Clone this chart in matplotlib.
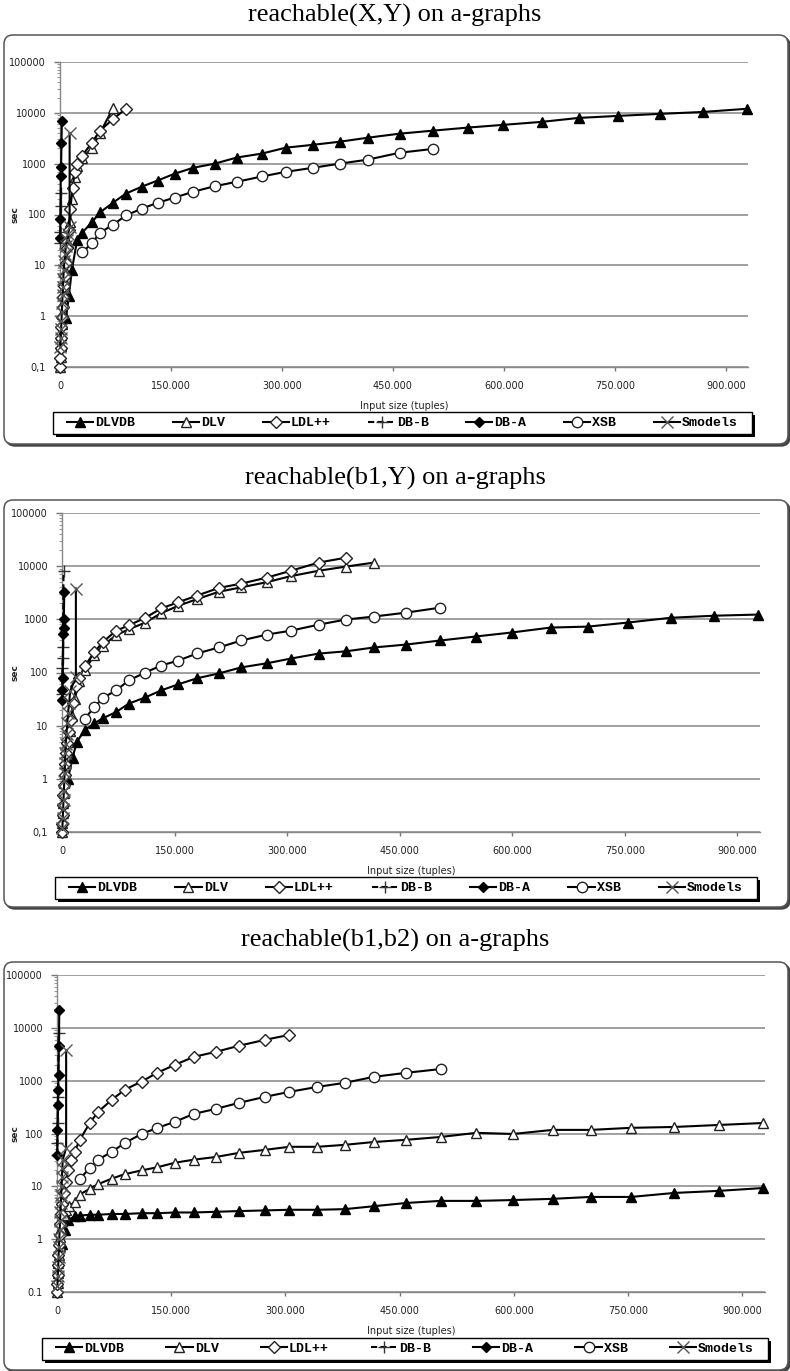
import matplotlib
matplotlib.use("Agg")
import matplotlib.pyplot as plt
from matplotlib.patches import FancyBboxPatch, Rectangle
from matplotlib.transforms import IdentityTransform
from matplotlib.ticker import FixedLocator, LogLocator, NullFormatter, FixedFormatter

W, H, DPI = 790, 1371, 100

# graph sizes (tuples) used by the larger runs
sizes = [23000, 30000, 43000, 54000, 72000, 89000, 111000, 132000, 155000,
         180000, 209000, 239000, 273000, 305000, 342000, 378000, 416000,
         459000, 504000, 551000, 599000, 651000, 701000, 754000, 811000,
         869000, 928000]

x_ticks = [0, 150000, 300000, 450000, 600000, 750000, 900000]
x_tick_labels = ['0', '150.000', '300.000', '450.000', '600.000', '750.000', '900.000']
y_ticks = [0.1, 1, 10, 100, 1000, 10000, 100000]
y_labels_comma = ['0,1', '1', '10', '100', '1000', '10000', '100000']
y_labels_dot = ['0.1', '1', '10', '100', '1000', '10000', '100000']

titles = ['reachable(X,Y) on a-graphs', 'reachable(b1,Y) on a-graphs',
          'reachable(b1,b2) on a-graphs']
systems = ['DLVDB', 'DLV', 'LDL++', 'DB-B', 'DB-A', 'XSB', 'Smodels']

# ---------------- reachable(X,Y) ----------------
p1_dlvdb_x = [8000, 12000, 16000] + sizes
p1_dlvdb_y = [0.9, 2.5, 8, 31, 44, 70, 110, 172, 258, 355, 466, 635, 830, 1000,
              1320, 1580, 2060, 2350, 2700, 3240, 3890, 4460, 5120, 5800, 6640,
              7940, 8700, 9540, 10400, 12000]
p1_dlv_x = [300, 700, 1200, 1800, 2500, 3300, 4200, 5200, 6300, 7500, 9000,
            11000, 13500, 16500, 20000] + sizes[:5]
p1_dlv_y = [0.1, 0.16, 0.26, 0.42, 0.7, 1.1, 1.8, 2.9, 4.6, 7.5, 13, 28, 70,
            200, 550, 900, 1300, 2000, 4000, 12600]
p1_ldl_x = [200, 500, 900, 1400, 2000, 2700, 3500, 4400, 5400, 6500, 8000,
            9500, 11500, 14000, 17000, 20000] + sizes[:6]
p1_ldl_y = [0.1, 0.15, 0.24, 0.38, 0.6, 0.95, 1.5, 2.4, 3.9, 6.3, 11, 22, 50,
            130, 330, 700, 1000, 1440, 2570, 4460, 7600, 12000]
p1_dbb_x = [300, 600, 1000, 1500]
p1_dbb_y = [28, 45, 150, 270]
p1_dba_x = [300, 600, 1000, 1500, 2000, 2500]
p1_dba_y = [34, 83, 560, 870, 2570, 6900]
p1_xsb_x = sizes[1:19]
p1_xsb_y = [18, 27, 44, 63, 96, 131, 170, 215, 280, 360, 440, 560, 690, 830,
            1000, 1200, 1640, 1950]
p1_smo_x = [500, 1000, 1500, 2000, 2500, 3000, 3500, 4000, 4500, 5000, 6000,
            7000, 8000, 9500, 11000, 13000, 13000]
p1_smo_y = [0.25, 0.38, 0.55, 0.8, 1.2, 1.8, 2.6, 3.8, 5.5, 8, 12, 17, 24, 32,
            42, 56, 4000]

# ---------------- reachable(b1,Y) ----------------
p2_dlvdb_x = [8000, 14000, 20000] + sizes[1:]
p2_dlvdb_y = [1.0, 2.5, 5, 8.2, 11, 13.7, 18, 26, 34, 46, 60, 78, 96, 125, 149,
              183, 227, 250, 296, 336, 400, 475, 565, 700, 730, 870, 1070,
              1170, 1230]
p2_dlv_x = [200, 500, 1000, 1500, 2000, 3000, 4000, 5000, 6000, 8000, 10000,
            13000, 17000] + sizes[:17]
p2_dlv_y = [0.1, 0.15, 0.23, 0.35, 0.55, 0.85, 1.3, 2, 3.2, 5, 8, 15, 32, 70,
            110, 210, 320, 500, 650, 870, 1300, 1800, 2400, 3300, 4000, 5000,
            6500, 8200, 9800, 11700]
p2_ldl_x = [150, 400, 800, 1300, 1800, 2600, 3500, 4500, 5500, 7000, 9000,
            11500, 15000, 19000] + sizes[:16]
p2_ldl_y = [0.1, 0.14, 0.21, 0.32, 0.5, 0.78, 1.2, 1.9, 3, 4.7, 7.5, 13, 27,
            55, 80, 130, 240, 370, 610, 770, 1070, 1600, 2100, 2800, 3900,
            4700, 6100, 8200, 11700, 14400]
p2_dbb_x = [300, 600, 1000, 1500, 2000]
p2_dbb_y = [40, 120, 190, 296, 8200]
p2_dba_x = [300, 600, 1000, 1500, 2000, 2500, 3000]
p2_dba_y = [30, 46, 78, 540, 700, 1020, 3200]
p2_xsb_x = sizes[1:19]
p2_xsb_y = [13.5, 22, 33, 46, 71, 100, 135, 168, 228, 296, 400, 517, 612, 795,
            990, 1130, 1340, 1660]
p2_smo_x = [500, 1000, 1500, 2000, 2500, 3000, 3500, 4000, 4500, 5000, 6000,
            7000, 8000, 9500, 11000, 18500, 18500]
p2_smo_y = [0.12, 0.18, 0.27, 0.4, 0.6, 0.9, 1.3, 2, 3, 4.5, 7, 11, 17, 27, 45,
            81, 3800]

# ---------------- reachable(b1,b2) ----------------
p3_dlvdb_x = [6000, 10000, 15000] + sizes
p3_dlvdb_y = [0.8, 1.5, 2.3, 2.7, 2.8, 2.9, 2.9, 3.0, 3.0, 3.1, 3.1, 3.2, 3.2,
              3.3, 3.4, 3.5, 3.6, 3.6, 3.7, 4.2, 4.85, 5.3, 5.3, 5.5, 5.8,
              6.3, 6.3, 7.5, 8.2, 9.3]
p3_dlv_x = [300, 700, 1200, 1800, 2500, 3300, 4200, 5500, 7000, 9000, 12000,
            16000] + sizes
p3_dlv_y = [0.1, 0.15, 0.23, 0.35, 0.5, 0.75, 1.1, 1.6, 2.2, 2.9, 3.6, 4.3,
            5, 7, 9, 11, 14, 17, 20, 23, 28, 32, 36, 43, 49, 56, 56, 61, 69,
            76, 86, 103, 98, 117, 117, 128, 133, 145, 158]
p3_ldl_x = [150, 400, 800, 1300, 1800, 2600, 3500, 4500, 5500, 7000, 9000,
            11500, 15000, 19000] + sizes[:14]
p3_ldl_y = [0.1, 0.14, 0.21, 0.32, 0.5, 0.78, 1.2, 1.9, 3, 4.7, 7.5, 12, 20,
            32, 45, 76, 158, 257, 435, 675, 960, 1420, 2000, 2830, 3520, 4580,
            5920, 7350]
p3_dbb_x = [200, 500, 1000, 1500, 2000]
p3_dbb_y = [39, 66, 158, 490, 8000]
p3_dba_x = [300, 600, 1000, 1500, 2000, 2500, 3000]
p3_dba_y = [40, 117, 345, 675, 1290, 4500, 21800]
p3_xsb_x = sizes[1:19]
p3_xsb_y = [14, 22, 32, 45, 66, 98, 128, 167, 236, 293, 380, 494, 613, 762,
            910, 1180, 1410, 1660]
p3_smo_x = [500, 1000, 1500, 2000, 2500, 3000, 3500, 4000, 4500, 5000, 5500,
            6000, 6500, 7000, 7500, 12000, 12000]
p3_smo_y = [0.13, 0.2, 0.3, 0.45, 0.7, 1.0, 1.5, 2.2, 3.2, 4.8, 7, 10, 15, 22,
            32, 53, 3800]

panels = [
    dict(title=titles[0], ylabels=y_labels_comma,
         series=[(p1_dlvdb_x, p1_dlvdb_y), (p1_dlv_x, p1_dlv_y), (p1_ldl_x, p1_ldl_y),
                 (p1_dbb_x, p1_dbb_y), (p1_dba_x, p1_dba_y), (p1_xsb_x, p1_xsb_y),
                 (p1_smo_x, p1_smo_y)],
         ax_px=(60, 62, 748, 367), frame_px=(4, 35, 788, 444), title_y=15,
         legend_px=(53, 412, 752, 434)),
    dict(title=titles[1], ylabels=y_labels_comma,
         series=[(p2_dlvdb_x, p2_dlvdb_y), (p2_dlv_x, p2_dlv_y), (p2_ldl_x, p2_ldl_y),
                 (p2_dbb_x, p2_dbb_y), (p2_dba_x, p2_dba_y), (p2_xsb_x, p2_xsb_y),
                 (p2_smo_x, p2_smo_y)],
         ax_px=(62, 513, 760, 832), frame_px=(4, 500, 788, 907), title_y=478,
         legend_px=(55, 877, 757, 899)),
    dict(title=titles[2], ylabels=y_labels_dot,
         series=[(p3_dlvdb_x, p3_dlvdb_y), (p3_dlv_x, p3_dlv_y), (p3_ldl_x, p3_ldl_y),
                 (p3_dbb_x, p3_dbb_y), (p3_dba_x, p3_dba_y), (p3_xsb_x, p3_xsb_y),
                 (p3_smo_x, p3_smo_y)],
         ax_px=(57, 975, 765, 1292), frame_px=(4, 962, 788, 1370), title_y=940,
         legend_px=(42, 1338, 768, 1360)),
]

# marker / line style for each system
styles = [
    dict(marker='^', ms=7.5, mfc='black', mec='black', ls='-'),
    dict(marker='^', ms=7.5, mfc='white', mec='#222222', ls='-'),
    dict(marker='D', ms=6, mfc='white', mec='#222222', ls='-'),
    dict(marker='+', ms=8, mfc='none', mec='#333333', ls=(0, (3, 1.5))),
    dict(marker='D', ms=5.5, mfc='black', mec='black', ls='-'),
    dict(marker='o', ms=7.5, mfc='white', mec='#222222', ls='-'),
    dict(marker='x', ms=8, mfc='none', mec='#555555', ls='-'),
]

fig = plt.figure(figsize=(W / DPI, H / DPI), dpi=DPI)
fig.patch.set_facecolor('white')


def fx(px):
    return px / W


def fy(py):
    return 1 - py / H


for p in panels:
    # rounded chart-area frame with a thin shadow
    x0, y0, x1, y1 = p['frame_px']
    shadow = FancyBboxPatch((x0 + 2, H - y1 - 2), x1 - x0, y1 - y0,
                            boxstyle='round,pad=0,rounding_size=9',
                            transform=IdentityTransform(), fc='#444444',
                            ec='#444444', lw=1, zorder=0)
    frame = FancyBboxPatch((x0, H - y1), x1 - x0, y1 - y0,
                           boxstyle='round,pad=0,rounding_size=9',
                           transform=IdentityTransform(), fc='white',
                           ec='#555555', lw=1.1, zorder=0.5)
    fig.patches.extend([shadow, frame])

    fig.text(0.5, fy(p['title_y']), p['title'], ha='center', va='center',
             fontsize=19, family='Liberation Serif')

    # legend box with a hard black shadow
    lx0, ly0, lx1, ly1 = p['legend_px']
    lshadow = Rectangle((lx0 + 3, H - ly1 - 3), lx1 - lx0, ly1 - ly0,
                        transform=IdentityTransform(), fc='black', ec='black',
                        lw=0, zorder=1)
    lbox = Rectangle((lx0, H - ly1), lx1 - lx0, ly1 - ly0,
                     transform=IdentityTransform(), fc='white', ec='black',
                     lw=1.0, zorder=1.5)
    fig.patches.extend([lshadow, lbox])

    l, t, r, b = p['ax_px']
    ax = fig.add_axes([fx(l), fy(b), fx(r - l), (b - t) / H])
    ax.set_facecolor('none')
    ax.set_zorder(2)

    for i, ((xs, ys), st) in enumerate(zip(p['series'], styles)):
        ax.plot(xs, ys, color='black', lw=1.5, ls=st['ls'], marker=st['marker'],
                ms=st['ms'], mfc=st['mfc'], mec=st['mec'], mew=1.0,
                label=systems[i], zorder=3 + i, clip_on=False)

    ax.set_yscale('log')
    ax.set_xlim(0, 930000)
    ax.set_ylim(0.1, 100000)
    ax.yaxis.set_major_locator(FixedLocator(y_ticks))
    ax.yaxis.set_major_formatter(FixedFormatter(p['ylabels']))
    ax.yaxis.set_minor_locator(LogLocator(base=10, subs=range(2, 10)))
    ax.yaxis.set_minor_formatter(NullFormatter())
    ax.xaxis.set_major_locator(FixedLocator(x_ticks))
    ax.xaxis.set_major_formatter(FixedFormatter(x_tick_labels))

    ax.grid(axis='y', which='major', color='#999999', lw=1.3)
    for s in ('top', 'right'):
        ax.spines[s].set_visible(False)
    for s in ('left', 'bottom'):
        ax.spines[s].set_color('#888888')
        ax.spines[s].set_linewidth(1.0)
    ax.tick_params(axis='y', which='major', length=4, width=1, color='#777777',
                   labelsize=7, labelcolor='#222222', pad=6)
    ax.tick_params(axis='y', which='minor', length=2, width=0.8, color='#999999')
    ax.tick_params(axis='x', which='major', length=3, width=1, color='#777777',
                   labelsize=7, labelcolor='#222222', pad=7)
    for lab in ax.get_xticklabels() + ax.get_yticklabels():
        lab.set_family('DejaVu Sans')

    ax.set_xlabel('Input size (tuples)', fontsize=7, family='DejaVu Sans',
                  color='#222222', labelpad=7)
    ax.set_ylabel('sec', fontsize=6.5, family='DejaVu Sans', weight='bold',
                  color='#222222')
    ax.yaxis.set_label_coords((20 - l) / (r - l), 0.5)

    inset = 14
    leg = ax.legend(loc='center', ncol=7, mode='expand',
                    bbox_to_anchor=(fx(lx0 + inset), fy(ly1),
                                    fx(lx1 - lx0 - 2 * inset), (ly1 - ly0) / H),
                    bbox_transform=fig.transFigure, frameon=False,
                    prop={'family': 'Liberation Mono', 'weight': 'bold', 'size': 9.5},
                    handlelength=2.0, handletextpad=0.15, borderpad=0.0,
                    columnspacing=0.8, borderaxespad=0.0)
    leg.set_zorder(10)

fig.savefig('out.png', dpi=DPI, facecolor='white')
